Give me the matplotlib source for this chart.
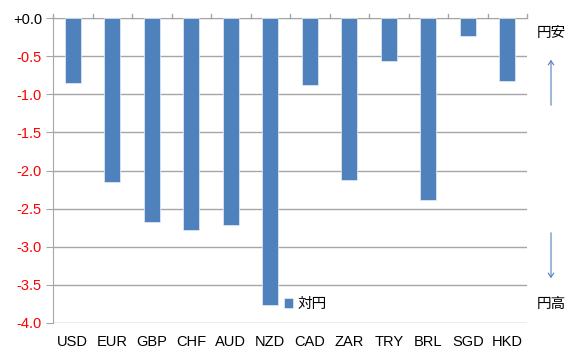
import numpy as np
import matplotlib
matplotlib.use("Agg")
import matplotlib.pyplot as plt

plt.rcParams['font.family'] = ['Liberation Sans', 'Noto Sans CJK JP', 'DejaVu Sans']

# 対円の変化率
currencies = ["USD", "EUR", "GBP", "CHF", "AUD", "NZD", "CAD", "ZAR", "TRY", "BRL", "SGD", "HKD"]
vs_yen = [-0.85, -2.15, -2.67, -2.78, -2.71, -3.76, -0.88, -2.12, -0.56, -2.39, -0.23, -0.82]
y_ticks = [0.0, -0.5, -1.0, -1.5, -2.0, -2.5, -3.0, -3.5, -4.0]
y_labels = ["+0.0", "-0.5", "-1.0", "-1.5", "-2.0", "-2.5", "-3.0", "-3.5", "-4.0"]

BAR = "#4f81bd"
GRID = "#a6a6a6"

fig = plt.figure(figsize=(5.7, 3.49), dpi=100)
ax = fig.add_axes([53 / 570, 1 - 323 / 349, 474 / 570, 305 / 349])

x = np.arange(len(currencies))
ax.bar(x, vs_yen, width=0.41, color=BAR, edgecolor="#e8eef7", linewidth=0.5,
       label="対円", zorder=3)

ax.set_xlim(-0.5, len(currencies) - 0.5)
ax.set_ylim(-4.0, 0.0)
ax.set_yticks(y_ticks)
ax.set_yticklabels(y_labels, fontsize=10.5)
for lbl in ax.get_yticklabels()[1:]:
    lbl.set_color("red")
ax.yaxis.grid(True, color=GRID, linewidth=1.0, zorder=0)

# category labels along the bottom, tick marks on the zero line
ax.set_xticks(x)
ax.set_xticklabels(currencies, fontsize=10.5)
ax.tick_params(axis="x", length=0, pad=9)
ax.tick_params(axis="y", length=5, color=GRID, pad=3)
for b in np.arange(-0.5, len(currencies), 1.0):
    ax.plot([b, b], [0, 0.055], color=GRID, linewidth=1.0, clip_on=False, zorder=4)

for s in ["right", "bottom"]:
    ax.spines[s].set_visible(False)
ax.spines["top"].set_color(GRID)
ax.spines["left"].set_color(GRID)

fig.legend(loc="center left", bbox_to_anchor=(284 / 570, 1 - 304 / 349),
           bbox_transform=fig.transFigure, frameon=False,
           fontsize=10.5, handlelength=0.65, handleheight=0.65, handletextpad=0.3,
           borderpad=0, borderaxespad=0)

# 円安 / 円高 の方向表示
fig.text(551 / 570, 1 - 33 / 349, "円安", fontsize=10.5, ha="center", va="center")
fig.text(551 / 570, 1 - 304 / 349, "円高", fontsize=10.5, ha="center", va="center")
fig.patches.append(matplotlib.patches.FancyArrowPatch(
    (551 / 570, 1 - 108 / 349), (551 / 570, 1 - 57 / 349), transform=fig.transFigure,
    arrowstyle="->,head_length=3,head_width=2", color=BAR, linewidth=0.8))
fig.patches.append(matplotlib.patches.FancyArrowPatch(
    (551 / 570, 1 - 230 / 349), (551 / 570, 1 - 281 / 349), transform=fig.transFigure,
    arrowstyle="->,head_length=3,head_width=2", color=BAR, linewidth=0.8))

fig.savefig("out.png", dpi=100)
